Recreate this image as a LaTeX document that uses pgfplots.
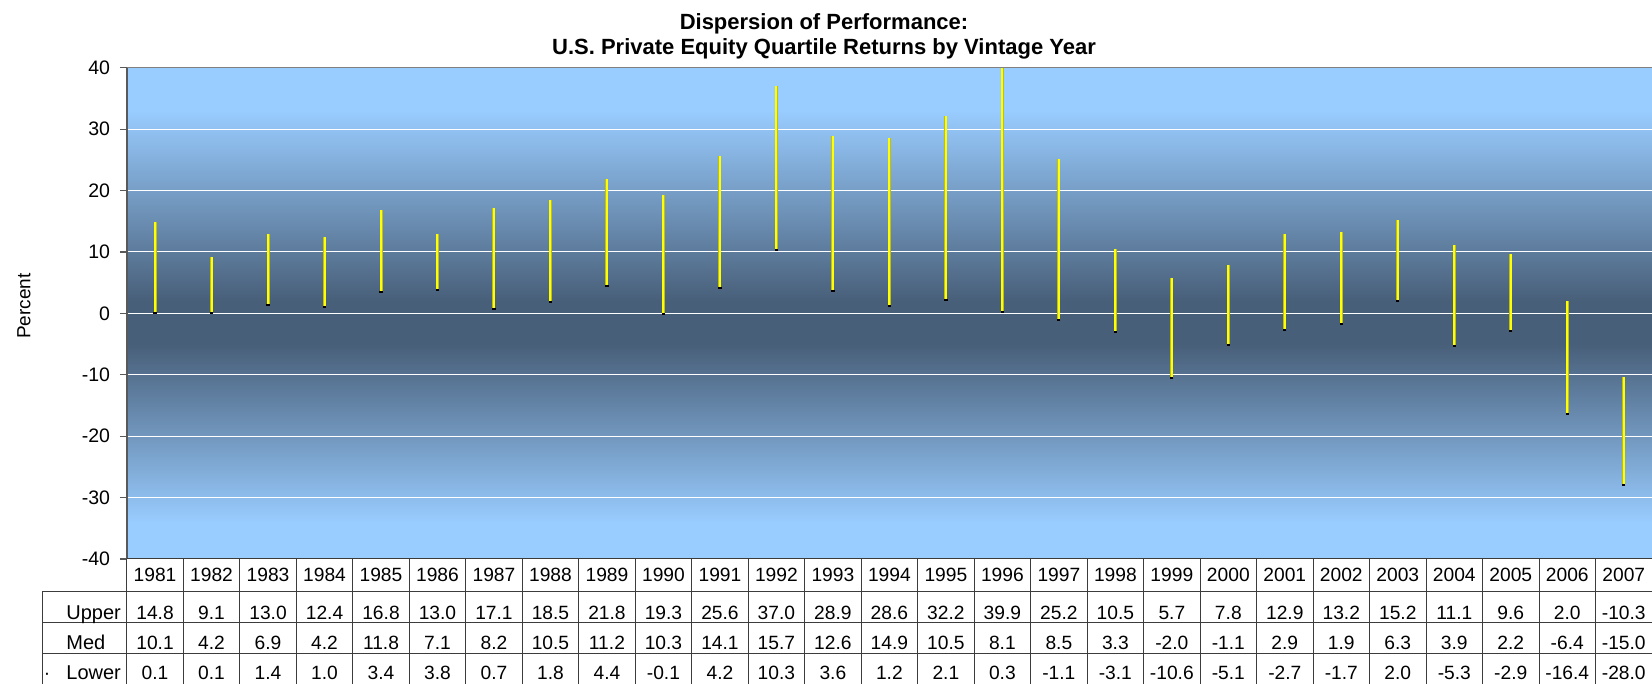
\documentclass[border=0pt]{standalone}
\usepackage{fontspec}
\setmainfont{Liberation Sans}
\usepackage{pgfplots}
\usepackage{pgfplotstable}
\pgfplotsset{compat=1.18}
\definecolor{lb}{RGB}{153,204,255}
\definecolor{dk}{RGB}{72,95,121}
\definecolor{tbl}{RGB}{60,60,60}
\definecolor{yel}{RGB}{255,255,0}
\definecolor{yedge}{RGB}{190,190,30}
\pgfdeclareverticalshading{plotbg}{100bp}{color(0bp)=(lb); color(28.75bp)=(lb); color(46.875bp)=(dk); color(51.25bp)=(dk); color(70.625bp)=(lb); color(100bp)=(lb)}

\pgfplotstableread{
year upper med lower
1981 14.8 10.1 0.1
1982 9.1 4.2 0.1
1983 13.0 6.9 1.4
1984 12.4 4.2 1.0
1985 16.8 11.8 3.4
1986 13.0 7.1 3.8
1987 17.1 8.2 0.7
1988 18.5 10.5 1.8
1989 21.8 11.2 4.4
1990 19.3 10.3 -0.1
1991 25.6 14.1 4.2
1992 37.0 15.7 10.3
1993 28.9 12.6 3.6
1994 28.6 14.9 1.2
1995 32.2 10.5 2.1
1996 39.9 8.1 0.3
1997 25.2 8.5 -1.1
1998 10.5 3.3 -3.1
1999 5.7 -2.0 -10.6
2000 7.8 -1.1 -5.1
2001 12.9 2.9 -2.7
2002 13.2 1.9 -1.7
2003 15.2 6.3 2.0
2004 11.1 3.9 -5.3
2005 9.6 2.2 -2.9
2006 2.0 -6.4 -16.4
2007 -10.3 -15.0 -28.0
}\data

\begin{document}
\begin{tikzpicture}[x=1pt,y=1pt]
\useasboundingbox (0,0) rectangle (826,342);
\begin{axis}[
  at={(63.4pt,62.5pt)}, anchor=south west,
  scale only axis, width=762.6pt, height=245.65pt,
  xmin=-0.5, xmax=26.5, ymin=-40, ymax=40,
  xtick=\empty,
  ytick={-40,-30,...,40},
  ytick pos=left,
  tick align=outside,
  major tick length=3.5pt,
  ytick style={draw=gray!70!black, line width=0.6pt},
  ymajorgrids,
  grid style={white, line width=0.5pt},
  axis line style={draw=none},
  axis background/.style={shade, shading=plotbg},
  /pgf/number format/assume math mode=true,
  yticklabel style={font=\fontsize{9.75}{11}\selectfont, inner sep=0pt, anchor=east, xshift=-4.7pt},
]
\addplot[draw=none, mark=none, forget plot,
  error bars/.cd, y dir=plus, y explicit, error mark=none,
  error bar style={draw=yedge, line width=1.5pt}]
  table[x expr=\coordindex, y=lower, y error expr=\thisrow{upper}-\thisrow{lower}] {\data};
\addplot[draw=none, mark=none, forget plot,
  error bars/.cd, y dir=plus, y explicit, error mark=none,
  error bar style={draw=yel, line width=1.0pt}]
  table[x expr=\coordindex, y=lower, y error expr=\thisrow{upper}-\thisrow{lower}] {\data};
\addplot[only marks, mark=-, mark size=0.8pt, black, line width=1pt]
  table[x expr=\coordindex, y=lower] {\data};
\end{axis}
% axis borders
\draw[gray, line width=0.6pt] (63.4,308.15) -- (826,308.15);
\draw[gray!70!black, line width=0.7pt] (63.4,62.5) -- (63.4,308.15);
% title
\node[font=\fontsize{11}{13}\selectfont\bfseries, anchor=base] at (412,327.35) {Dispersion of Performance:};
\node[font=\fontsize{11}{13}\selectfont\bfseries, anchor=base] at (412,314.5) {U.S. Private Equity Quartile Returns by Vintage Year};
% y label
\node[rotate=90, font=\fontsize{9.5}{11}\selectfont] at (12,189) {Percent};
% data table
\draw[tbl, line width=0.5pt] (63.4,62.5) -- (826,62.5);
\foreach \yy in {46,30.5,15} {\draw[tbl, line width=0.5pt] (21,\yy) -- (826,\yy);}
\draw[tbl, line width=0.5pt] (21,0) -- (21,46);
\foreach \k in {0,...,26} {\draw[tbl, line width=0.5pt] ({63.4+\k*28.244},0) -- ({63.4+\k*28.244},62.5);}
\begin{scope}[every node/.style={font=\fontsize{9.6}{11}\selectfont, anchor=base, inner sep=0pt}]
\node[anchor=base west, font=\fontsize{10}{11}\selectfont] at (33,32) {Upper};
\node[anchor=base west, font=\fontsize{10}{11}\selectfont] at (33,17) {Med};
\node[anchor=base west, font=\fontsize{10}{11}\selectfont] at (33,2) {Lower};
\node at (23.5,2) {·};
\foreach \i in {0,...,26} {
  \pgfmathsetmacro{\cx}{63.4+(\i+0.5)*28.244}
  \pgfplotstablegetelem{\i}{year}\of\data
  \node at (\cx,51) {\pgfplotsretval};
  \pgfplotstablegetelem{\i}{upper}\of\data
  \node at (\cx,32) {\pgfplotsretval};
  \pgfplotstablegetelem{\i}{med}\of\data
  \node at (\cx,17) {\pgfplotsretval};
  \pgfplotstablegetelem{\i}{lower}\of\data
  \node at (\cx,2) {\pgfplotsretval};
}
\end{scope}
\end{tikzpicture}
\end{document}
